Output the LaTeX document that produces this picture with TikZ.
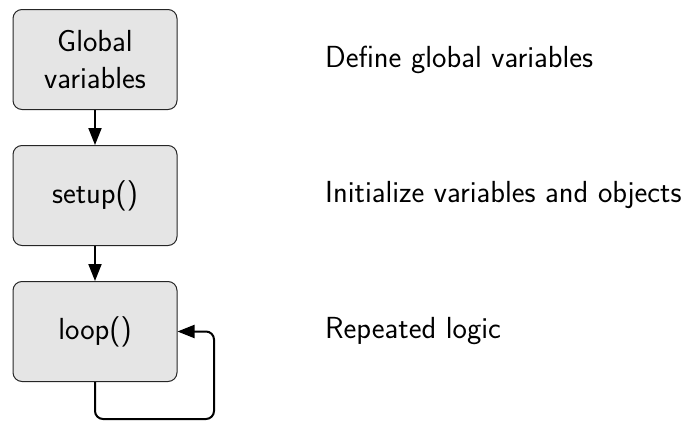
\documentclass[tikz,border=0pt]{standalone}
\usetikzlibrary{arrows.meta}
\begin{document}
\begin{tikzpicture}[x=1pt,y=-1pt,
  blk/.style={draw=black!85, line width=1pt, fill=gray!20, rounded corners=9pt,
    minimum width=164pt, minimum height=100pt, align=center,
    font=\sffamily\fontsize{30.5}{37}\selectfont},
  lbl/.style={anchor=west, inner sep=0pt, font=\sffamily\fontsize{30.5}{37}\selectfont},
  conn/.style={line width=2pt, -{Triangle[length=17pt,width=13pt]}}]
\useasboundingbox (0,0) rectangle (683,423);
\node[blk] (g) at (95,59.5) {Global\\variables};
\node[blk] (s) at (95,195.5) {setup()};
\node[blk] (l) at (95,331.5) {loop()};
\node[lbl] (tg) at (325,59.5) {Define global variables};
\node[lbl] (ts) at (325,195.5) {Initialize variables and objects};
\node[lbl] (tl) at (325,331.5) {Repeated logic};
\draw[conn] (g) -- (s);
\draw[conn] (s) -- (l);
\coordinate (c1) at (95,419);
\coordinate (c2) at (214,419);
\draw[conn, rounded corners=8pt] (l.south) -- (c1) -- (c2) |- (l.east);
\end{tikzpicture}
\end{document}
